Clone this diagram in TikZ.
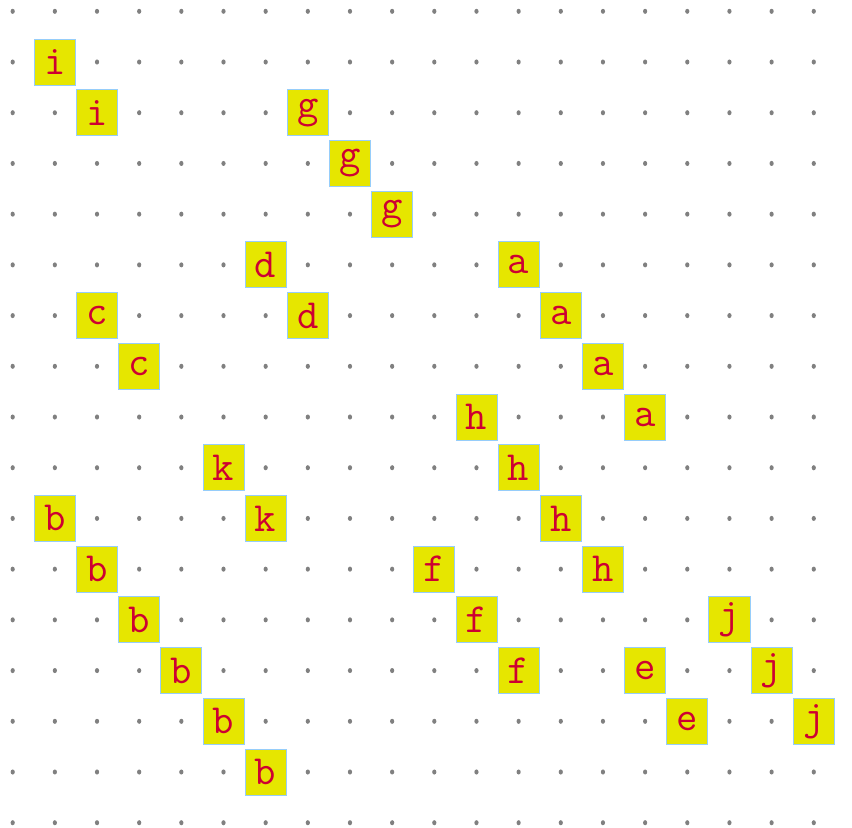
\documentclass[tikz,border=0pt]{standalone}
\usepackage{fontspec}
\usepackage{xcolor}
\usepackage{tikz}
\definecolor{TileYellow}{RGB}{230, 230, 0}
\definecolor{TileBlue}{RGB}{150, 205, 250}
\definecolor{TileRed}{RGB}{205, 0, 50}
\definecolor{DotGray}{RGB}{128, 128, 128}

\begin{document}
\begin{tikzpicture}[x=1cm, y=-1.2028cm,
    tile/.style={draw=TileBlue, line width=0.6pt, fill=TileYellow, text=TileRed,
      minimum width=0.973cm, minimum height=1.091cm, inner sep=0pt,
      font=\ttfamily\fontsize{28}{30}\selectfont}]
        \useasboundingbox (-0.301,-0.223) rectangle (19.907,16.086);

        % Dot grid
        \foreach \c in {0,...,20} {
            \foreach \r in {0,...,16} {
                \fill[DotGray] (\c,\r) circle (0.05);
            }
        }

        % Letter tiles
        \foreach \c/\r/\t in {1/1/i, 2/2/i,
            7/2/g, 8/3/g, 9/4/g,
            6/5/d, 7/6/d,
            12/5/a, 13/6/a, 14/7/a, 15/8/a,
            2/6/c, 3/7/c,
            11/8/h, 12/9/h, 13/10/h, 14/11/h,
            5/9/k, 6/10/k,
            1/10/b, 2/11/b, 3/12/b, 4/13/b, 5/14/b, 6/15/b,
            10/11/f, 11/12/f, 12/13/f,
            15/13/e, 16/14/e,
            17/12/j, 18/13/j, 19/14/j} {
            \node[tile] (\t-\c-\r) at (\c,\r) {\t};
        }
    \end{tikzpicture}
\end{document}
